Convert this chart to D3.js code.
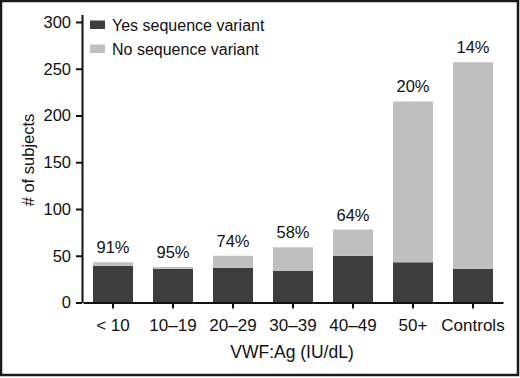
<!DOCTYPE html>
<html>
<head>
<meta charset="utf-8">
<script src="https://cdn.jsdelivr.net/npm/d3@7"></script>
<style>
  body { margin: 0; background: #fff; }
  svg text { font-family: "Liberation Sans", Arial, Helvetica, sans-serif; fill: #111; }
</style>
</head>
<body>
<svg id="chart"></svg>
<script>
// data
const categories = ["< 10", "10\u201319", "20\u201329", "30\u201339", "40\u201349", "50+", "Controls"];
const yesValues = [39, 36, 37, 34, 50, 43, 36];
const noValues = [4, 2, 13, 25, 28, 172, 221];
const pctLabels = ["91%", "95%", "74%", "58%", "64%", "20%", "14%"];
const seriesNames = ["Yes sequence variant", "No sequence variant"];
const yTicks = [0, 50, 100, 150, 200, 250, 300];

const W = 520, H = 378;
const colors = ["#3d3d3d", "#bfbfbf"];

const svg = d3.select("#chart")
  .attr("width", W)
  .attr("height", H);

// frame
svg.append("rect")
  .attr("x", 1).attr("y", 1)
  .attr("width", W - 3).attr("height", H - 4)
  .attr("fill", "none")
  .attr("stroke", "#1a1a1a")
  .attr("stroke-width", 2.5);

const rows = categories.map((c, i) => ({ cat: c, yes: yesValues[i], no: noValues[i], pct: pctLabels[i] }));

const x = d3.scaleBand()
  .domain(categories)
  .range([83, 503])
  .paddingInner(1 / 3)
  .paddingOuter(1 / 6);

const y = d3.scaleLinear()
  .domain([0, 308])
  .range([302.5, 14.5]);

// stacked bars
const stack = d3.stack().keys(["yes", "no"])(rows);

svg.append("g").selectAll("g")
  .data(stack)
  .join("g")
  .attr("fill", (d, i) => colors[i])
  .selectAll("rect")
  .data(d => d)
  .join("rect")
  .attr("x", d => x(d.data.cat))
  .attr("y", d => y(d[1]))
  .attr("width", x.bandwidth())
  .attr("height", d => y(d[0]) - y(d[1]));

// percentage labels
svg.append("g").selectAll("text")
  .data(rows)
  .join("text")
  .attr("x", d => x(d.cat) + x.bandwidth() / 2)
  .attr("y", d => y(d.yes + d.no) - 9)
  .attr("text-anchor", "middle")
  .style("font-size", "16.5px")
  .text(d => d.pct);

// axes
const xAxis = svg.append("g")
  .attr("transform", `translate(0,${y(0)})`)
  .call(d3.axisBottom(x).tickSizeOuter(0).tickSizeInner(6).tickPadding(10));

const yAxis = svg.append("g")
  .attr("transform", "translate(82,0)")
  .call(d3.axisLeft(y).tickValues(yTicks).tickSizeOuter(0).tickSizeInner(6).tickPadding(5));

[xAxis, yAxis].forEach(a => {
  a.selectAll("path, line").attr("stroke", "#111").attr("stroke-width", 2);
  a.selectAll("text")
    .style("font-size", "16.5px")
    .style("font-family", "\"Liberation Sans\", Arial, Helvetica, sans-serif")
    .attr("fill", "#111");
});
xAxis.selectAll("text").style("font-size", "17px");

// axis titles
svg.append("text")
  .attr("x", 292)
  .attr("y", 358)
  .attr("text-anchor", "middle")
  .style("font-size", "17.5px")
  .text("VWF:Ag (IU/dL)");

svg.append("text")
  .attr("transform", "translate(34,160) rotate(-90)")
  .attr("text-anchor", "middle")
  .style("font-size", "16.5px")
  .text("# of subjects");

// legend
const legend = svg.append("g");
const legendY = [20.5, 44.5];
seriesNames.forEach((name, i) => {
  legend.append("rect")
    .attr("x", 90).attr("y", legendY[i])
    .attr("width", 15).attr("height", 8.5)
    .attr("fill", colors[i]);
  legend.append("text")
    .attr("x", 112).attr("y", legendY[i] + 10)
    .style("font-size", "16px")
    .text(name);
});
</script>
</body>
</html>
